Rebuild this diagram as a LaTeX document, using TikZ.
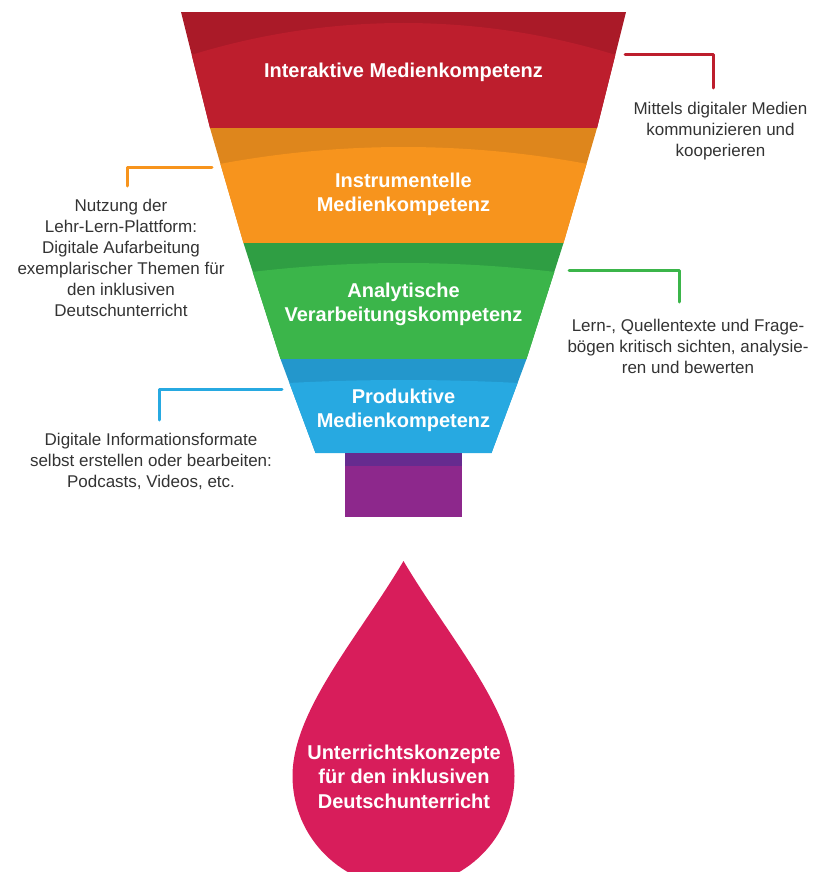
\documentclass[tikz,border=0pt]{standalone}
\usepackage{fontspec}
\setmainfont{Liberation Sans}
\definecolor{redA}{HTML}{BD1E2D}
\definecolor{redB}{HTML}{AA1A28}
\definecolor{orgA}{HTML}{F7941D}
\definecolor{orgB}{HTML}{DE861C}
\definecolor{grnA}{HTML}{3BB54A}
\definecolor{grnB}{HTML}{2F9E43}
\definecolor{bluA}{HTML}{27A9E1}
\definecolor{bluB}{HTML}{2397CC}
\definecolor{purA}{HTML}{8D288C}
\definecolor{purB}{HTML}{662B8F}
\definecolor{dropc}{HTML}{D81D5B}
\definecolor{txt}{HTML}{333333}

\begin{document}
\begin{tikzpicture}[x=1pt, y=-1pt,
  title/.style={text=white, align=center, inner sep=0pt, font=\bfseries\fontsize{20}{24.5}\selectfont},
  note/.style={text=txt, align=center, inner sep=0pt, font=\fontsize{17}{21}\selectfont},
  link/.style={line width=3pt, line cap=round, line join=round}]
\useasboundingbox (0,0) rectangle (813,872);
\clip (0,0) rectangle (813,872);
% funnel bands: top y / bottom y / half widths / colours / top of arc / arc radius
\foreach \ya/\yb/\wa/\wb/\ca/\cb/\yc/\rr in {12/128/222.5/193.5/redA/redB/23/716,
    128/243/193.5/160/orgA/orgB/147/993, 243/359/160/123/grnA/grnB/263/1266,
    359/453/123/88/bluA/bluB/380/2168}{
  \begin{scope}
    \clip (403.5-\wa,\ya) -- (403.5+\wa,\ya) -- (403.5+\wb,\yb) -- (403.5-\wb,\yb) -- cycle;
    \fill[\cb] (0,\ya) rectangle (813,\yb);
    \fill[\ca] (403.5,\yc+\rr) circle[radius=\rr pt];
  \end{scope}
}
\fill[purA] (345,453) rectangle (462,517);
\fill[purB] (345,453) rectangle (462,466);
\fill[dropc] (403.5,561) .. controls (360,635) and (292.5,710) .. (292.5,776)
  arc[start angle=180, end angle=360, radius=111pt]
  .. controls (514.5,710) and (447,635) .. (403.5,561) -- cycle;

\node[title] (b1) at (403.5,72.5) {Interaktive Medienkompetenz};
\node[title] (b2) at (403.5,194.5) {Instrumentelle\\Medienkompetenz};
\node[title] (b3) at (403.5,304.5) {Analytische\\Verarbeitungskompetenz};
\node[title] (b4) at (403.5,410.5) {Produktive\\Medienkompetenz};
\node[title] (d) at (404,776.5) {Unterrichtskonzepte\\für den inklusiven\\Deutschunterricht};

\node[note] (n1) at (720.5,131) {Mittels digitaler Medien\\kommunizieren und\\kooperieren};
\node[note] (n2) at (121,257.5) {Nutzung der\\Lehr-Lern-Plattform:\\Digitale Aufarbeitung\\exemplarischer Themen für\\den inklusiven\\Deutschunterricht};
\node[note] (n3) at (688,346) {Lern-, Quellentexte und Frage-\\bögen kritisch sichten, analysie-\\ren und bewerten};
\node[note] (n4) at (151,461.5) {Digitale Informationsformate\\selbst erstellen oder bearbeiten:\\Podcasts, Videos, etc.};

\coordinate (s1) at (625,55);  \coordinate (e1) at (713,88);
\coordinate (s2) at (212,167); \coordinate (e2) at (127,186);
\coordinate (s3) at (569,270); \coordinate (e3) at (679,302);
\coordinate (s4) at (282,389); \coordinate (e4) at (159,420);
\draw[link, redA] (s1) -| (e1);
\draw[link, orgA] (s2) -| (e2);
\draw[link, grnA] (s3) -| (e3);
\draw[link, bluA] (s4) -| (e4);
\end{tikzpicture}
\end{document}
